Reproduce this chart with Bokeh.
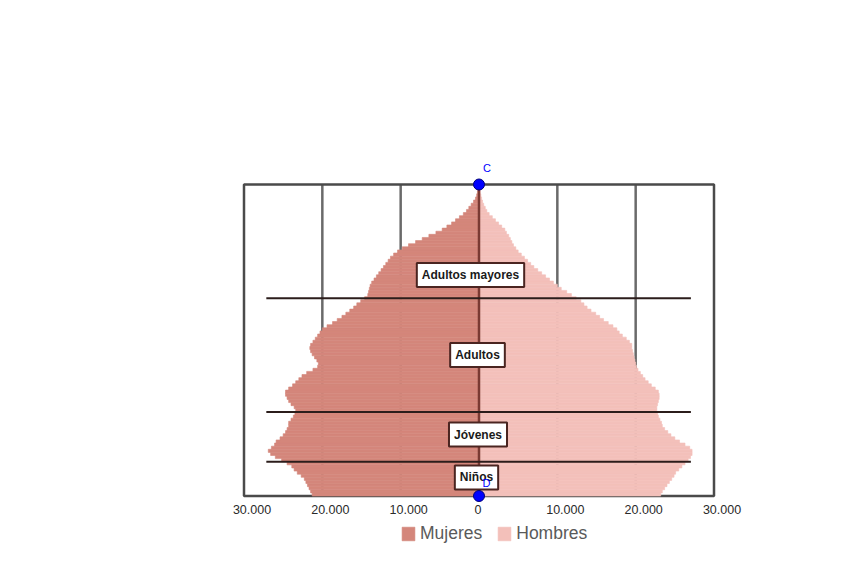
from bokeh.plotting import figure
from bokeh.models import Range1d, Label, Legend, LegendItem
from bokeh.embed import file_html
from bokeh.resources import INLINE
from bokeh.core.properties import value

# ---------------- data ----------------
ages = list(range(100))
mujeres = [
    21300, 21500, 21700, 21900, 22100, 22300, 22700, 23200, 23600, 23900,
    24500, 25200, 26000, 26600, 26900, 26500, 26100, 25900, 25400, 25000,
    24700, 24500, 24300, 24300, 24000, 23700, 23500, 23400, 23600, 24000,
    24300, 24500, 24700, 24700, 24300, 23800, 23400, 23000, 22600, 22000,
    21200, 20600, 20500, 20700, 21000, 21300, 21500, 21600, 21500, 21200,
    20900, 20600, 20300, 20000, 19400, 18700, 18100, 17500, 17000, 16500,
    16000, 15600, 15100, 14600, 14200, 14100, 14000, 13900, 13700, 13400,
    13100, 12800, 12500, 12200, 11900, 11600, 11300, 10900, 10400, 9800,
    9000, 8100, 7250, 6400, 5500, 4700, 4100, 3500, 3000, 2500,
    2000, 1600, 1300, 1000, 700, 450, 300, 200, 120, 60,
]
hombres = [
    23200, 23400, 23700, 24000, 24300, 24600, 24900, 25100, 25500, 25900,
    26300, 26700, 27000, 27200, 27200, 26900, 26300, 25600, 25000, 24500,
    24100, 23700, 23400, 23300, 23100, 22900, 22800, 22700, 22700, 22800,
    22900, 23000, 23000, 22900, 22500, 22000, 21600, 21200, 20900, 20600,
    20300, 20100, 20000, 19900, 19800, 19700, 19600, 19500, 19500, 19200,
    18800, 18300, 17900, 17600, 17100, 16500, 15900, 15400, 14900, 14300,
    13800, 13400, 13000, 12400, 11800, 11200, 10500, 10000, 9500, 9000,
    8500, 8000, 7500, 7000, 6600, 6200, 5800, 5400, 5000, 4700,
    4400, 4200, 4000, 3800, 3500, 3300, 2900, 2500, 2100, 1700,
    1300, 1000, 800, 600, 450, 330, 240, 160, 100, 60,
]
tick_values = [-30000, -20000, -10000, 0, 10000, 20000, 30000]
tick_labels = ["30.000", "20.000", "10.000", "0", "10.000", "20.000", "30.000"]
grid_values = [-20000, -10000, 10000, 20000]
group_names = ["Adultos mayores", "Adultos", "Jóvenes", "Niños"]
group_bounds = [63.5, 27, 11]
series_names = ["Mujeres", "Hombres"]
point_names = ["C", "D"]

# ---------------- styling / geometry ----------------
W, H = 847, 572
PX = 60000 / 470.0          # data units per screen pixel (x)
PY = 100 / 311.5            # ages per screen pixel (y)
X0 = 478.5                  # canvas x of value 0
Y0 = 495.5                  # canvas y (from top) of age 0
TOP = ages[-1] + 1

C_MUJ = "#d4867b"
C_HOM = "#f3c0ba"
FONT = value("Liberation Sans")

p = figure(width=W, height=H,
           x_range=Range1d(-X0 * PX, (W - X0) * PX),
           y_range=Range1d(-(H - Y0) * PY, Y0 * PY),
           output_backend="svg", toolbar_location=None,
           x_axis_location=None, y_axis_location=None,
           min_border=0, min_border_left=0, min_border_right=0,
           min_border_top=0, min_border_bottom=0,
           outline_line_color=None, background_fill_color="white",
           border_fill_color="white")
p.grid.visible = False

# vertical grid lines (behind bars)
p.segment(x0=grid_values, y0=[0] * len(grid_values), x1=grid_values,
          y1=[TOP] * len(grid_values), line_color="#6a6a6a", line_width=2.5)
# chart frame
p.quad(left=[tick_values[0]], right=[tick_values[-1]], bottom=[0], top=[TOP],
       fill_color=None, line_color="#4a4a4a", line_width=2.5)

# bars
r_m = p.quad(left=[-v for v in mujeres], right=[0] * len(ages), bottom=ages,
             top=[a + 1 for a in ages], fill_color=C_MUJ, line_color=C_MUJ,
             line_width=0.6)
r_h = p.quad(left=[0] * len(ages), right=hombres, bottom=ages,
             top=[a + 1 for a in ages], fill_color=C_HOM, line_color=C_HOM,
             line_width=0.6)

# central axis line
p.segment(x0=[0], y0=[0], x1=[0], y1=[TOP], line_color="#7a3a33", line_width=2.5)
# group divider lines
p.segment(x0=[-27150] * len(group_bounds), y0=group_bounds,
          x1=[27050] * len(group_bounds), y1=group_bounds,
          line_color="#2b1d1b", line_width=2)

# tick labels
nz = [i for i, v in enumerate(tick_values) if v != 0]
z = [i for i, v in enumerate(tick_values) if v == 0]
p.text(x=[tick_values[i] for i in nz], y=[0] * len(nz),
       text=[tick_labels[i] for i in nz], x_offset=8, y_offset=13.5,
       text_align="center", text_baseline="middle", text_font=FONT,
       text_font_size="12.5px", text_color="#2a2a2a")
p.text(x=[tick_values[i] for i in z], y=[0] * len(z),
       text=[tick_labels[i] for i in z], x_offset=-1, y_offset=13.5,
       text_align="center", text_baseline="middle", text_font=FONT,
       text_font_size="12.5px", text_color="#2a2a2a")

# group labels in boxes
label_pos = [(-1085, 70.95), (-191, 45.26), (-128, 19.74), (-319, 5.94)]
for name, (lx, ly) in zip(group_names, label_pos):
    p.add_layout(Label(x=lx, y=ly, text=name, text_align="center",
                       text_baseline="middle", text_font="Liberation Sans",
                       text_font_size="12px", text_font_style="bold",
                       text_color="#1a1a1a",
                       background_fill_color="white",
                       border_line_color="#4a2420", border_line_width=2,
                       padding=5))

# geogebra points C and D
p.scatter(x=[0, 0], y=[TOP, 0], size=11, fill_color="#0000ff",
          line_color="#00007a", line_width=1, level="overlay")
p.text(x=[0, 0], y=[TOP, 0], text=point_names, x_offset=[8, 7.5],
       y_offset=[-17, -13.5], text_align="center", text_baseline="middle",
       text_font=FONT, text_font_size="11px", text_color="#0000ff",
       level="overlay")

# legend
legend = Legend(items=[LegendItem(label=series_names[0], renderers=[r_m]),
                       LegendItem(label=series_names[1], renderers=[r_h])],
                orientation="horizontal", location=(400, 28),
                glyph_width=16, glyph_height=17, label_standoff=4, spacing=14,
                padding=0, margin=0, border_line_color=None,
                background_fill_alpha=0, label_text_font="Liberation Sans",
                label_text_font_size="17.5px", label_text_color="#5a5a5a")
p.add_layout(legend)

open("out.html", "w").write(file_html(p, INLINE))
